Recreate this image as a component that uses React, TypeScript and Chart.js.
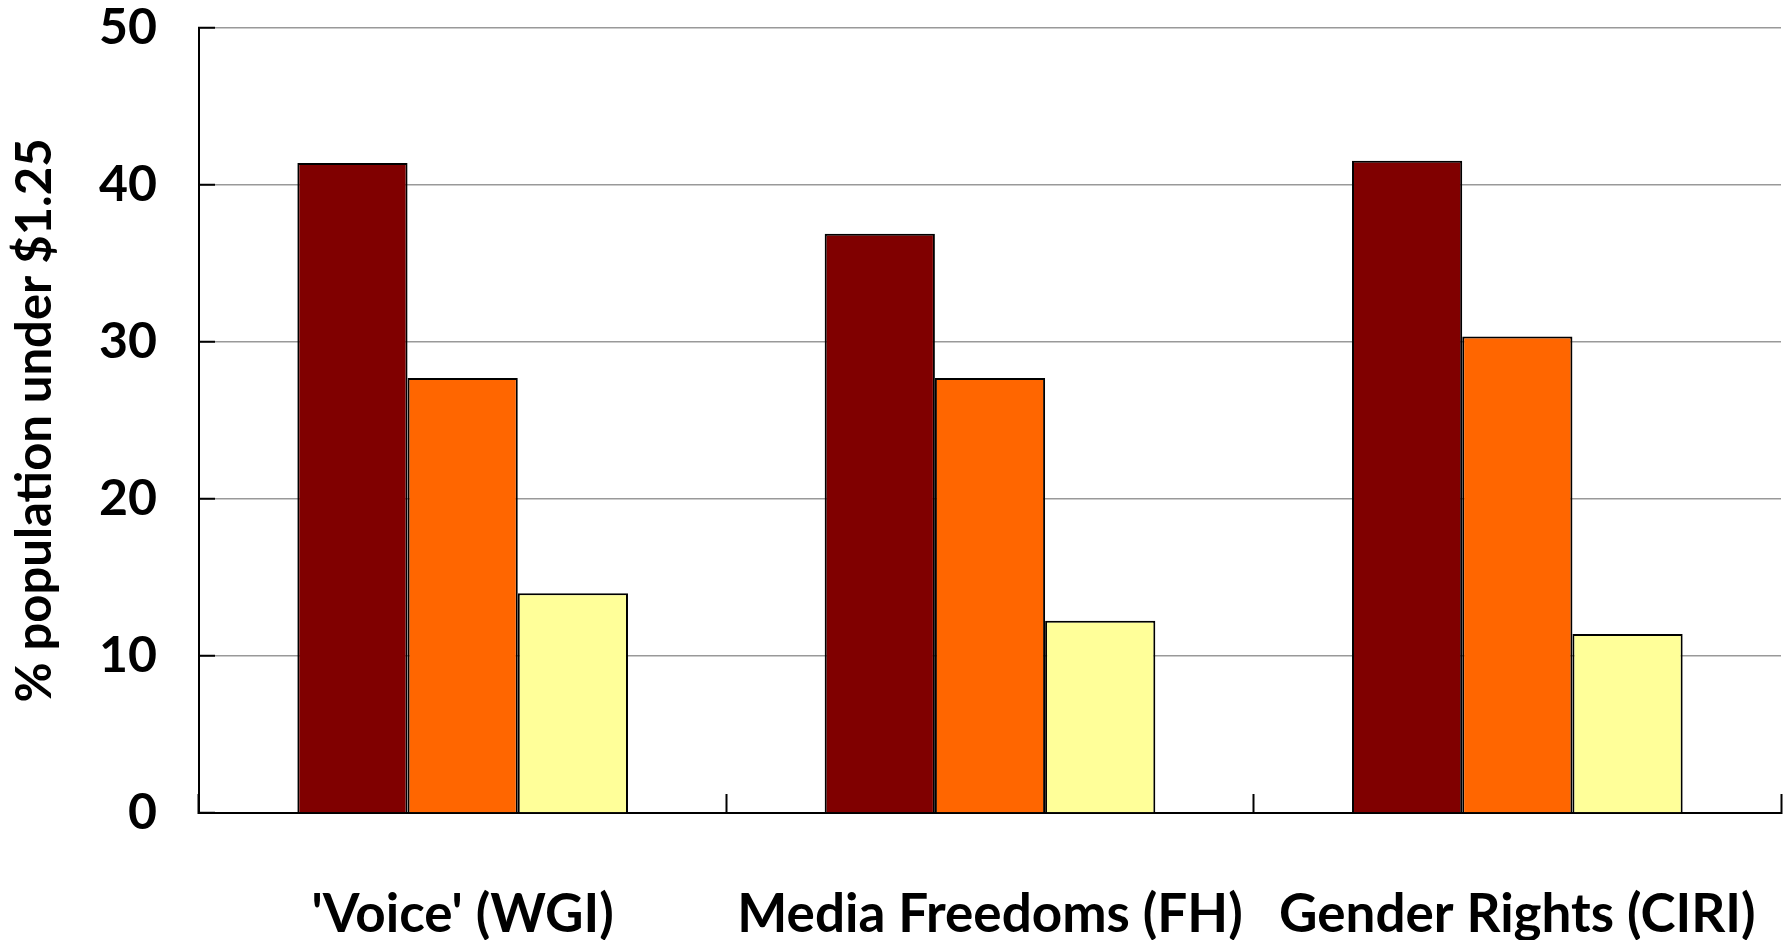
import React, { useEffect, useRef } from "react";
import { Chart, registerables } from "chart.js";

Chart.register(...registerables);

const categories = ["'Voice' (WGI)", "Media Freedoms (FH)", "Gender Rights (CIRI)"];
const seriesLow = [41.4, 36.9, 41.55];
const seriesMid = [27.7, 27.7, 30.35];
const seriesHigh = [14.0, 12.25, 11.4];
const yTicks = [0, 10, 20, 30, 40, 50];
const yTitle = "% population under $1.25";

export default function App() {
  const ref = useRef<HTMLCanvasElement | null>(null);
  useEffect(() => {
    if (!ref.current) return;
    const font = "Lato";
    const zeroPad = (s: any) => {
      s.paddingTop = 0;
      s.paddingBottom = 0;
      s.paddingLeft = 0;
      s.paddingRight = 0;
    };
    const chart = new Chart(ref.current, {
      type: "bar",
      data: {
        labels: categories,
        datasets: [
          { label: "low", data: seriesLow, backgroundColor: "#800000", borderColor: "#000", borderWidth: 2 },
          { label: "mid", data: seriesMid, backgroundColor: "#FF6600", borderColor: "#000", borderWidth: 2 },
          { label: "high", data: seriesHigh, backgroundColor: "#FFFF99", borderColor: "#000", borderWidth: 2 },
        ],
      },
      options: {
        animation: false,
        responsive: false,
        maintainAspectRatio: false,
        layout: { padding: { top: 28, right: 6, left: 0, bottom: 0 } },
        plugins: { legend: { display: false }, tooltip: { enabled: false } },
        datasets: { bar: { categoryPercentage: 0.627, barPercentage: 1.0 } },
        scales: {
          x: {
            grid: { drawOnChartArea: false, tickLength: -19, tickColor: "#000", tickWidth: 2, offset: true },
            border: { color: "#000", width: 2 },
            ticks: { color: "#000", font: { family: font, weight: "bold", size: 53 }, padding: 89, maxRotation: 0, autoSkip: false },
            afterFit: (s: any) => { s.height = 127; zeroPad(s); },
          },
          y: {
            min: 0,
            max: 50,
            afterBuildTicks: (s: any) => { s.ticks = yTicks.map((v) => ({ value: v })); },
            grid: { color: "#999", lineWidth: 1.5, tickLength: -16, tickColor: "#000", tickWidth: 2 },
            border: { color: "#000", width: 2 },
            ticks: { color: "#000", font: { family: font, weight: "bold", size: 50, lineHeight: 1 }, padding: 58 },
            title: { display: true, text: yTitle, color: "#000", font: { family: font, weight: "bold", size: 49 }, padding: { top: 6, bottom: 0 } },
            afterFit: (s: any) => { s.width = 199; zeroPad(s); },
          },
        },
      },
    });
    return () => chart.destroy();
  }, []);
  return (
    <div style={{ position: "fixed", left: 0, top: 0, width: 1787, height: 940, background: "#fff" }}>
      <canvas ref={ref} width={1787} height={940} style={{ width: 1787, height: 940 }} />
    </div>
  );
}
